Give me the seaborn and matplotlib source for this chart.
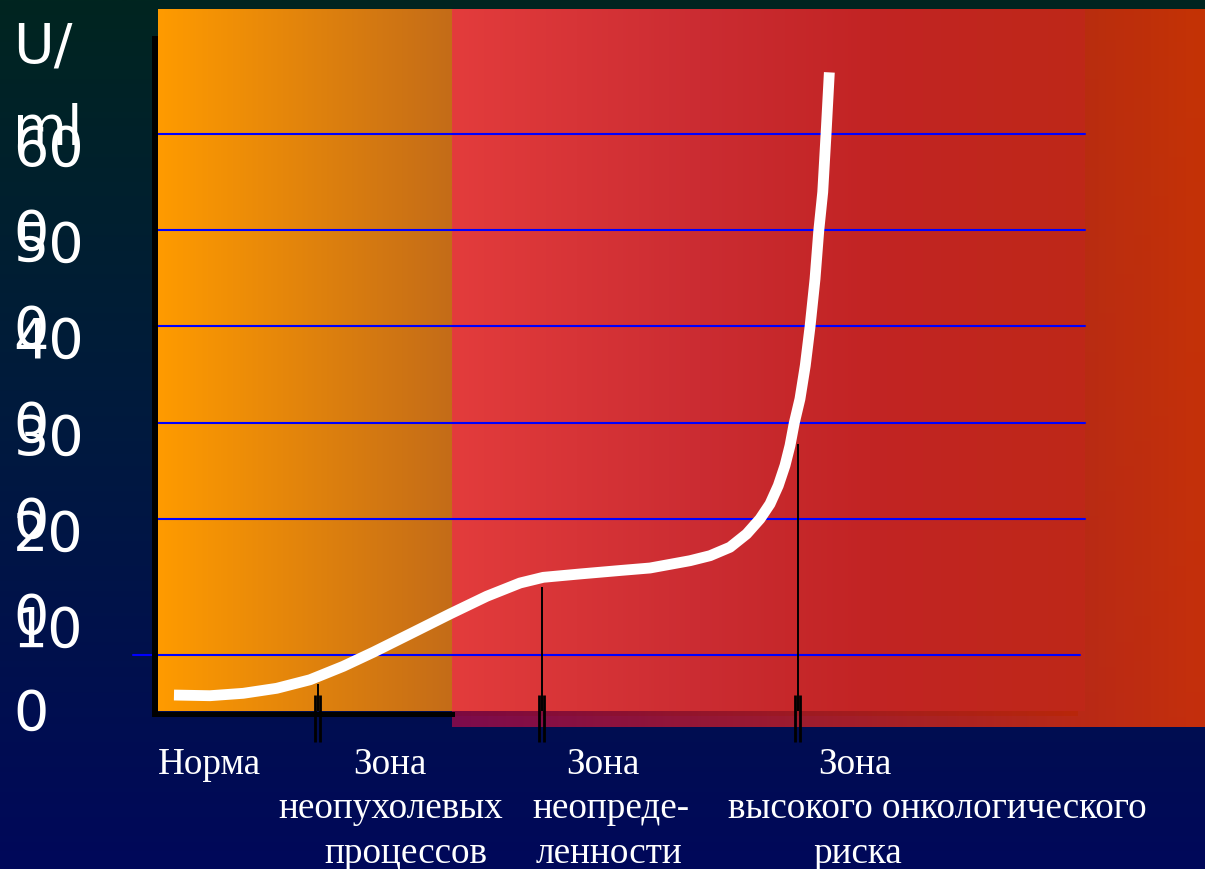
import numpy as np
import matplotlib
matplotlib.use("Agg")
import matplotlib.pyplot as plt
import seaborn as sns
from matplotlib.colors import LinearSegmentedColormap
from matplotlib import transforms
from matplotlib.patches import Rectangle

# ---------------- data ----------------
curve_x = [2.04, 5.91, 9.49, 13.09, 16.67, 20.25, 23.47, 27.42, 31.72, 35.67,
           39.25, 41.75, 45.70, 50.00, 53.23, 57.53, 59.68, 61.83, 63.62, 65.05,
           66.13, 67.02, 67.74, 68.28, 68.74, 69.35, 69.92, 70.43, 70.97, 71.37,
           71.80, 72.15, 72.51]
curve_y = [16.6, 15.9, 18.4, 23.6, 32.5, 46.5, 61.1, 80.1, 100.9, 119.3,
           133.1, 139.0, 142.5, 146.1, 148.7, 156.3, 161.5, 170.3, 184.1, 199.7,
           215.3, 234.4, 255.2, 276.0, 299.6, 324.5, 359.0, 399.3, 449.2, 499.1,
           539.6, 599.0, 664.1]

y_ticks = [100, 200, 300, 400, 500, 600]
y_tick_labels = ["10\n0", "20\n0", "30\n0", "40\n0", "50\n0", "60\n0"]
y_unit = "U/\nml"
grid_levels = [58, 200, 300, 400, 500, 600]

divider_x = [17.5, 41.6, 69.1]
divider_top = [28.1, 129.0, 278.0]

zone_lines = [["Норма"],
              ["Зона", "неопухолевых", "процессов"],
              ["Зона", "неопреде-", "ленности"],
              ["Зона", "высокого онкологического", "риска"]]
zone_line_x = [[5.9],
               [25.3, 25.4, 27.0],
               [48.2, 49.0, 48.8],
               [75.3, 84.1, 75.6]]

# ---------------- style ----------------
sns.set_theme(style="white")
plt.rcParams["font.family"] = ["DejaVu Sans"]

W, H = 1205, 870
fig = plt.figure(figsize=(W / 100, H / 100), dpi=100)


def grad_array(stops, n, horizontal, alpha=1.0):
    cmap = LinearSegmentedColormap.from_list("g", stops)
    cols = cmap(np.linspace(0, 1, n))
    cols[:, 3] = alpha
    if horizontal:
        return cols[np.newaxis, :, :]
    return cols[:, np.newaxis, :]


# background axes in pixel coordinates
bg = fig.add_axes([0, 0, 1, 1], zorder=0)
bg.axis("off")

bg.imshow(grad_array([(0, "#002520"), (0.45, "#011B3C"), (1, "#00085A")], 256, False),
          extent=(0, W, H, 0), aspect="auto", interpolation="bilinear", zorder=0)
# orange zone
bg.imshow(grad_array([(0, "#FF9B00"), (1, "#C46C18")], 256, True),
          extent=(158, 452, 712, 10), aspect="auto", interpolation="bilinear", zorder=1)
# dark strip (axis line under translucent red)
bg.add_patch(Rectangle((452, 712), 626, 5, color="black", lw=0, zorder=2))
# outer translucent red
bg.imshow(grad_array([(0, "#940B4C"), (1, "#E93600")], 256, True, alpha=0.85),
          extent=(452, W, 728, 10), aspect="auto", interpolation="bilinear", zorder=3)
# inner red
bg.imshow(grad_array([(0, "#E33C3C"), (0.392, "#CB2C32"), (0.66, "#C22424"), (1, "#BE2818")],
                     256, True),
          extent=(452, 1085, 712, 10), aspect="auto", interpolation="bilinear", zorder=4)
bg.set_xlim(0, W)
bg.set_ylim(H, 0)

# main axes
ax = fig.add_axes([155 / W, (H - 714.5) / H, 930 / W, 674.5 / H], zorder=1)
ax.set_facecolor("none")
ax.set_xlim(0, 100)
ax.set_ylim(-2.6, 698.8)

for s in ["top", "right"]:
    ax.spines[s].set_visible(False)
ax.spines["left"].set_color("black")
ax.spines["left"].set_linewidth(4.3)
ax.spines["bottom"].set_color("black")
ax.spines["bottom"].set_linewidth(3.6)
ax.spines["bottom"].set_bounds(0, 31.9)

# grid lines
grid_spans = [(-0.024, 0.995)] + [(0.003, 1.0)] * (len(grid_levels) - 1)
for lvl, (x0, x1) in zip(grid_levels, grid_spans):
    ax.axhline(lvl, xmin=x0, xmax=x1, color="#0000FF", lw=1.5, clip_on=False, zorder=2)

# dividers
ax.vlines(divider_x, 0, divider_top, color="black", lw=1.4, zorder=3)
for dx in divider_x:
    ax.vlines([dx - 0.27, dx + 0.27], -32.2, 16.6, color="black", lw=2.0,
              clip_on=False, zorder=3)

# curve
sns.lineplot(x=curve_x, y=curve_y, color="white", linewidth=7.8, ax=ax,
             legend=False, zorder=5, solid_capstyle="butt", solid_joinstyle="round")

ax.set_xticks([])
ax.set_xlabel("")

# y ticks
ax.set_yticks(y_ticks, y_tick_labels)
ax.tick_params(axis="y", length=0, pad=102, labelsize=40, labelcolor="white")
offset = transforms.ScaledTranslation(0, 8 / 72, fig.dpi_scale_trans)
for lbl in ax.get_yticklabels():
    lbl.set_ha("left")
    lbl.set_va("top")
    lbl.set_linespacing(1.7)
    lbl.set_transform(lbl.get_transform() + offset)

ax.set_ylabel(y_unit, rotation=0, fontsize=40, color="white", ha="left", va="top",
              linespacing=1.7)
ax.yaxis.set_label_coords(-0.1527, 1.0296)

# zone labels
baselines = [1 - 774 / H, 1 - 818 / H, 1 - 863 / H]
trans = transforms.blended_transform_factory(ax.transData, fig.transFigure)
for lines, xs in zip(zone_lines, zone_line_x):
    for j, (txt, xx) in enumerate(zip(lines, xs)):
        ax.text(xx, baselines[j], txt, transform=trans, ha="center", va="baseline",
                fontsize=26.7, family="Liberation Serif", color="white", clip_on=False)

fig.savefig("out.png", dpi=100)
